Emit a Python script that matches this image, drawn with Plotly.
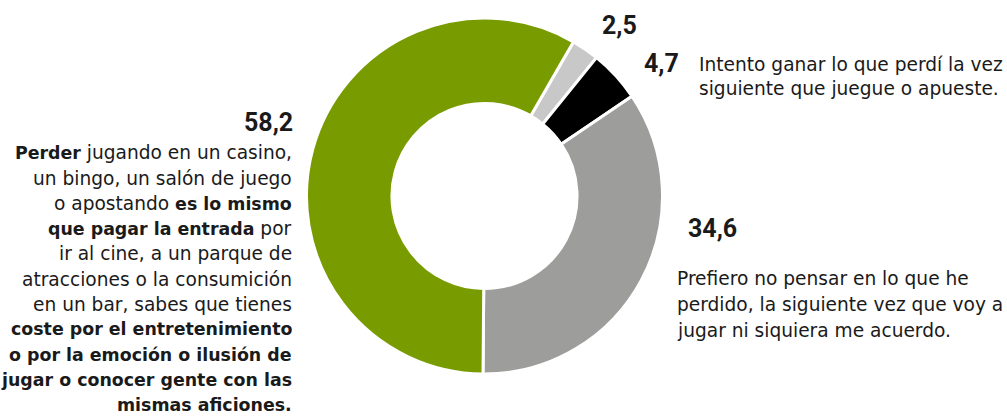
import plotly.graph_objects as go

# Data
labels = ["Otro", "Intento ganar lo que perdí", "Prefiero no pensar", "Perder es como pagar la entrada"]
values = [2.5, 4.7, 34.6, 58.2]
colors = ["#C8C8C8", "#000000", "#9D9D9C", "#789B00"]

left_lines = [
    "<b>Perder</b> jugando en un casino,",
    "un bingo, un salón de juego",
    "o apostando <b>es lo mismo</b>",
    "<b>que pagar la entrada</b> por",
    "ir al cine, a un parque de",
    "atracciones o la consumición",
    "en un bar, sabes que tienes",
    "<b>coste por el entretenimiento</b>",
    "<b>o por la emoción o ilusión de</b>",
    "<b>jugar o conocer gente con las</b>",
    "<b>mismas aficiones.</b>",
]
black_lines = ["Intento ganar lo que perdí la vez", "siguiente que juegue o apueste."]
gray_lines = ["Prefiero no pensar en lo que he", "perdido, la siguiente vez que voy a", "jugar ni siquiera me acuerdo."]

W, H = 1007, 419
FONT = "DejaVu Sans"
NUM_FONT = "Roboto"
REG_SIZE = 18.6
BOLD_SIZE = 17.4

def fmt(v):
    return f"{v:.1f}".replace(".", ",")

def px(x):
    return x / W

def py(y):
    return 1 - y / H

def styled(t):
    return (t.replace("<b>", f'<span style="font-weight:bold;font-size:{BOLD_SIZE}px">')
             .replace("</b>", "</span>"))

fig = go.Figure(go.Pie(
    labels=labels, values=values, sort=False, direction="clockwise", rotation=30,
    hole=0.52, textinfo="none",
    marker=dict(colors=colors, line=dict(color="white", width=3)),
    domain=dict(x=[px(306.5), px(662.5)], y=[py(374), py(18)]),
    showlegend=False,
))

ann = []
def add(text, x, y, xanchor, size, family=FONT):
    ann.append(dict(text=text, x=px(x), y=py(y),
                    xref="paper", yref="paper", xanchor=xanchor, yanchor="middle",
                    showarrow=False, font=dict(family=family, size=size, color="#1a1a1a")))

# value labels
add(f"<b>{fmt(values[3])}</b>", 295, 122, "right", 25, NUM_FONT)
add(f"<b>{fmt(values[0])}</b>", 600, 25, "left", 25, NUM_FONT)
add(f"<b>{fmt(values[1])}</b>", 681, 63, "right", 25, NUM_FONT)
add(f"<b>{fmt(values[2])}</b>", 686, 228, "left", 25, NUM_FONT)

for i, t in enumerate(left_lines):
    add(styled(t), 294, 153 + i * 25.2, "right", REG_SIZE)
for i, t in enumerate(black_lines):
    add(styled(t), 697, 64 + i * 25, "left", REG_SIZE)
for i, t in enumerate(gray_lines):
    add(styled(t), 675, 278 + i * 26, "left", REG_SIZE)

fig.update_layout(
    width=W, height=H, margin=dict(l=0, r=0, t=0, b=0),
    paper_bgcolor="white", plot_bgcolor="white",
    annotations=ann,
)
fig.write_html("out.html", config={"displayModeBar": False},
               post_script="document.body.style.margin='0';document.body.style.overflow='hidden';")
